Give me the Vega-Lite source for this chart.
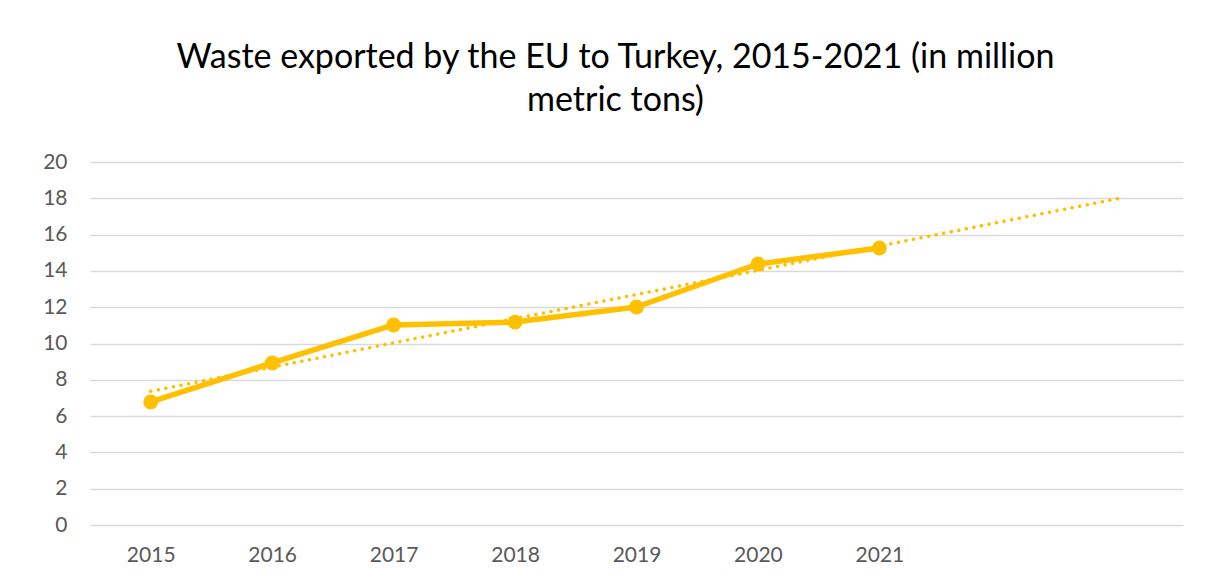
{
  "$schema": "https://vega.github.io/schema/vega-lite/v6.json",
  "width": 1093,
  "height": 363,
  "autosize": "none",
  "padding": {"left": 90, "top": 162, "right": 30, "bottom": 54},
  "background": "white",
  "config": {
    "view": {"stroke": null},
    "font": "Lato"
  },
  "title": {
    "text": ["Waste exported by the EU to Turkey, 2015-2021 (in million", "metric tons)"],
    "font": "Lato",
    "fontSize": 34,
    "fontWeight": "normal",
    "color": "#000000",
    "anchor": "middle",
    "dx": -21,
    "offset": 33,
    "lineHeight": 43
  },
  "data": {
    "values": [
      {"year": 2015, "value": 6.78},
      {"year": 2016, "value": 8.93},
      {"year": 2017, "value": 11.02},
      {"year": 2018, "value": 11.18},
      {"year": 2019, "value": 12.01},
      {"year": 2020, "value": 14.38},
      {"year": 2021, "value": 15.26}
    ]
  },
  "encoding": {
    "x": {
      "field": "year",
      "type": "quantitative",
      "scale": {"domain": [2014.5, 2023.5], "nice": false, "zero": false},
      "axis": {
        "title": null,
        "values": [2015, 2016, 2017, 2018, 2019, 2020, 2021],
        "format": "d",
        "grid": false,
        "domain": false,
        "ticks": false,
        "labelFont": "Lato",
        "labelFontSize": 21,
        "labelColor": "#595959",
        "labelPadding": 19
      }
    },
    "y": {
      "field": "value",
      "type": "quantitative",
      "scale": {"domain": [0, 20], "nice": false},
      "axis": {
        "title": null,
        "values": [0, 2, 4, 6, 8, 10, 12, 14, 16, 18, 20],
        "grid": true,
        "gridColor": "#D9D9D9",
        "gridWidth": 1.5,
        "domain": false,
        "ticks": false,
        "labelFont": "Lato",
        "labelFontSize": 21,
        "labelColor": "#595959",
        "labelPadding": 23
      }
    }
  },
  "layer": [
    {
      "transform": [
        {"regression": "value", "on": "year", "extent": [2015, 2023]}
      ],
      "mark": {
        "type": "line",
        "color": "#FFC000",
        "strokeWidth": 3.5,
        "strokeCap": "round",
        "strokeDash": [0.1, 7.6]
      }
    },
    {
      "mark": {
        "type": "line",
        "color": "#FFC000",
        "strokeWidth": 5.5,
        "strokeJoin": "round",
        "point": {"filled": true, "size": 220, "color": "#FFC000", "opacity": 1}
      }
    }
  ]
}
